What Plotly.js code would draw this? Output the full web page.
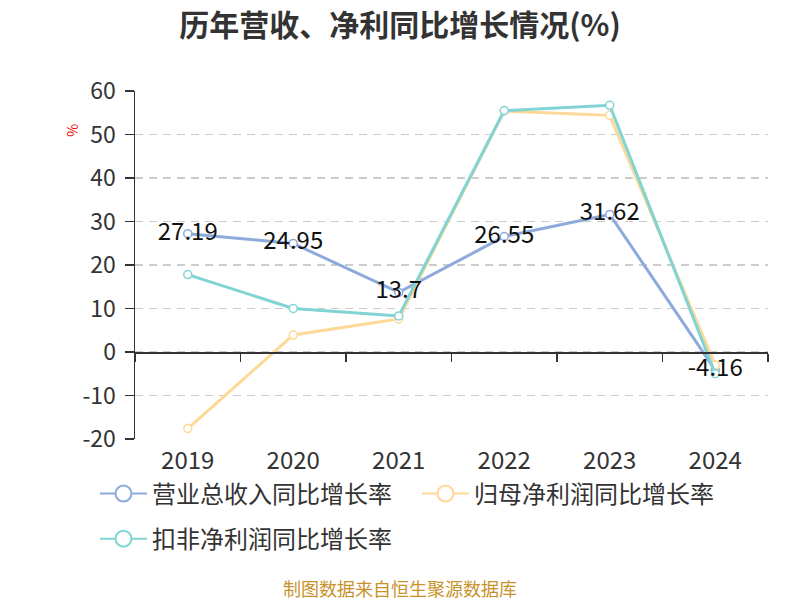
<!DOCTYPE html>
<html>
<head>
<meta charset="utf-8">
<script src="https://cdn.plot.ly/plotly-3.0.1.min.js"></script>
<style>
  html, body { margin: 0; padding: 0; background: #fff; }
  #chart { width: 800px; height: 600px; }
</style>
</head>
<body>
<div id="chart"></div>
<script>
const years = ['2019', '2020', '2021', '2022', '2023', '2024'];
const revenueGrowth = [27.19, 24.95, 13.7, 26.55, 31.62, -4.16];
const netProfitGrowth = [-17.6, 3.9, 7.6, 55.4, 54.4, -3.0];
const deductedProfitGrowth = [17.8, 10.0, 8.3, 55.5, 56.7, -5.0];

const yTickVals = [-20, -10, 0, 10, 20, 30, 40, 50, 60];
const yTickText = ['-20', '-10', '0', '10', '20', '30', '40', '50', '60'];

const seriesNames = ['营业总收入同比增长率', '归母净利润同比增长率', '扣非净利润同比增长率'];
const seriesColors = ['#8eaadb', '#fdd896', '#80d4d3'];
const seriesValues = [revenueGrowth, netProfitGrowth, deductedProfitGrowth];
const legendIds = ['legend', 'legend2', 'legend3'];

const fontFamily = '"Noto Sans CJK SC", "Noto Sans", sans-serif';

const traces = [];

// the lines themselves
seriesValues.forEach((values, i) => {
    traces.push({
        x: years,
        y: values,
        name: seriesNames[i],
        type: 'scatter',
        mode: 'lines+markers',
        cliponaxis: false,
        line: { color: seriesColors[i], width: 3 },
        marker: { symbol: 'circle', size: 8, color: '#fff', line: { color: seriesColors[i], width: 1.5 } },
        showlegend: false
    });
});

// value labels for revenue, on top of every line
traces.push({
    x: years,
    y: revenueGrowth,
    type: 'scatter',
    mode: 'text',
    text: revenueGrowth.map(v => String(v)),
    textposition: 'middle center',
    textfont: { family: fontFamily, size: 24, color: '#111' },
    cliponaxis: false,
    showlegend: false,
    hoverinfo: 'skip'
});

// legend entries with a bigger open circle (no points drawn), one legend box each
seriesValues.forEach((values, i) => {
    traces.push({
        x: years,
        y: values.map(() => null),
        name: seriesNames[i],
        legend: legendIds[i],
        type: 'scatter',
        mode: 'lines+markers',
        line: { color: seriesColors[i], width: 2 },
        marker: { symbol: 'circle', size: 16, color: '#fff', line: { color: seriesColors[i], width: 2 } },
        hoverinfo: 'skip'
    });
});

// invisible copy so the zero-line axis (x2) gets drawn
traces.push({
    x: years, y: revenueGrowth, xaxis: 'x2', type: 'scatter', mode: 'lines',
    line: { width: 0 }, opacity: 0, showlegend: false, hoverinfo: 'skip'
});

function legendBox(x, y) {
    return {
        orientation: 'h',
        x: x, xanchor: 'left',
        y: y, yanchor: 'middle',
        font: { family: fontFamily, size: 24, color: '#333' },
        itemwidth: 47,
        bgcolor: 'rgba(0,0,0,0)'
    };
}

const layout = {
    width: 800,
    height: 600,
    paper_bgcolor: '#fff',
    plot_bgcolor: '#fff',
    margin: { l: 135, r: 32, t: 91, b: 161 },
    font: { family: fontFamily, color: '#333' },
    title: {
        text: '<b>历年营收、净利同比增长情况(%)</b>',
        font: { family: fontFamily, size: 30, color: '#333' },
        x: 0.5, xanchor: 'center',
        y: 0.958, yanchor: 'middle'
    },
    xaxis: {
        type: 'category',
        range: [-0.5, 5.5],
        showline: false,
        showgrid: false,
        zeroline: false,
        ticks: '',
        ticklabelstandoff: 5,
        tickfont: { family: fontFamily, size: 24, color: '#333' }
    },
    xaxis2: {
        type: 'category',
        overlaying: 'x',
        anchor: 'free',
        position: 0.25,
        range: [-0.5, 5.5],
        showline: true,
        linecolor: '#333',
        linewidth: 1.5,
        ticks: 'outside',
        tickson: 'boundaries',
        ticklen: 8,
        tickwidth: 1.5,
        tickcolor: '#333',
        showticklabels: false,
        showgrid: false,
        zeroline: false
    },
    yaxis: {
        range: [-20, 60],
        tickmode: 'array',
        tickvals: yTickVals,
        ticktext: yTickText,
        showline: true,
        linecolor: '#333',
        linewidth: 1.5,
        ticks: 'outside',
        ticklen: 9,
        tickwidth: 1.5,
        tickcolor: '#333',
        ticklabelstandoff: 4,
        tickfont: { family: fontFamily, size: 23, color: '#333' },
        showgrid: true,
        gridcolor: '#cccccc',
        gridwidth: 1.5,
        griddash: '8px,6px',
        zeroline: false
    },
    showlegend: true,
    legend: legendBox(-0.0632, -0.158),
    legend2: legendBox(0.4455, -0.158),
    legend3: legendBox(-0.0632, -0.2875),
    annotations: [
        {
            text: '%', xref: 'paper', yref: 'paper',
            x: -0.1, y: 0.888, xanchor: 'center', yanchor: 'middle',
            textangle: -90, showarrow: false,
            font: { family: fontFamily, size: 14, color: '#e00' }
        },
        {
            text: '制图数据来自恒生聚源数据库', xref: 'paper', yref: 'paper',
            x: 0.419, y: -0.428, xanchor: 'center', yanchor: 'middle',
            showarrow: false,
            font: { family: fontFamily, size: 18, color: '#c8922a' }
        }
    ]
};

Plotly.newPlot('chart', traces, layout, { displayModeBar: false, staticPlot: true });
</script>
</body>
</html>
